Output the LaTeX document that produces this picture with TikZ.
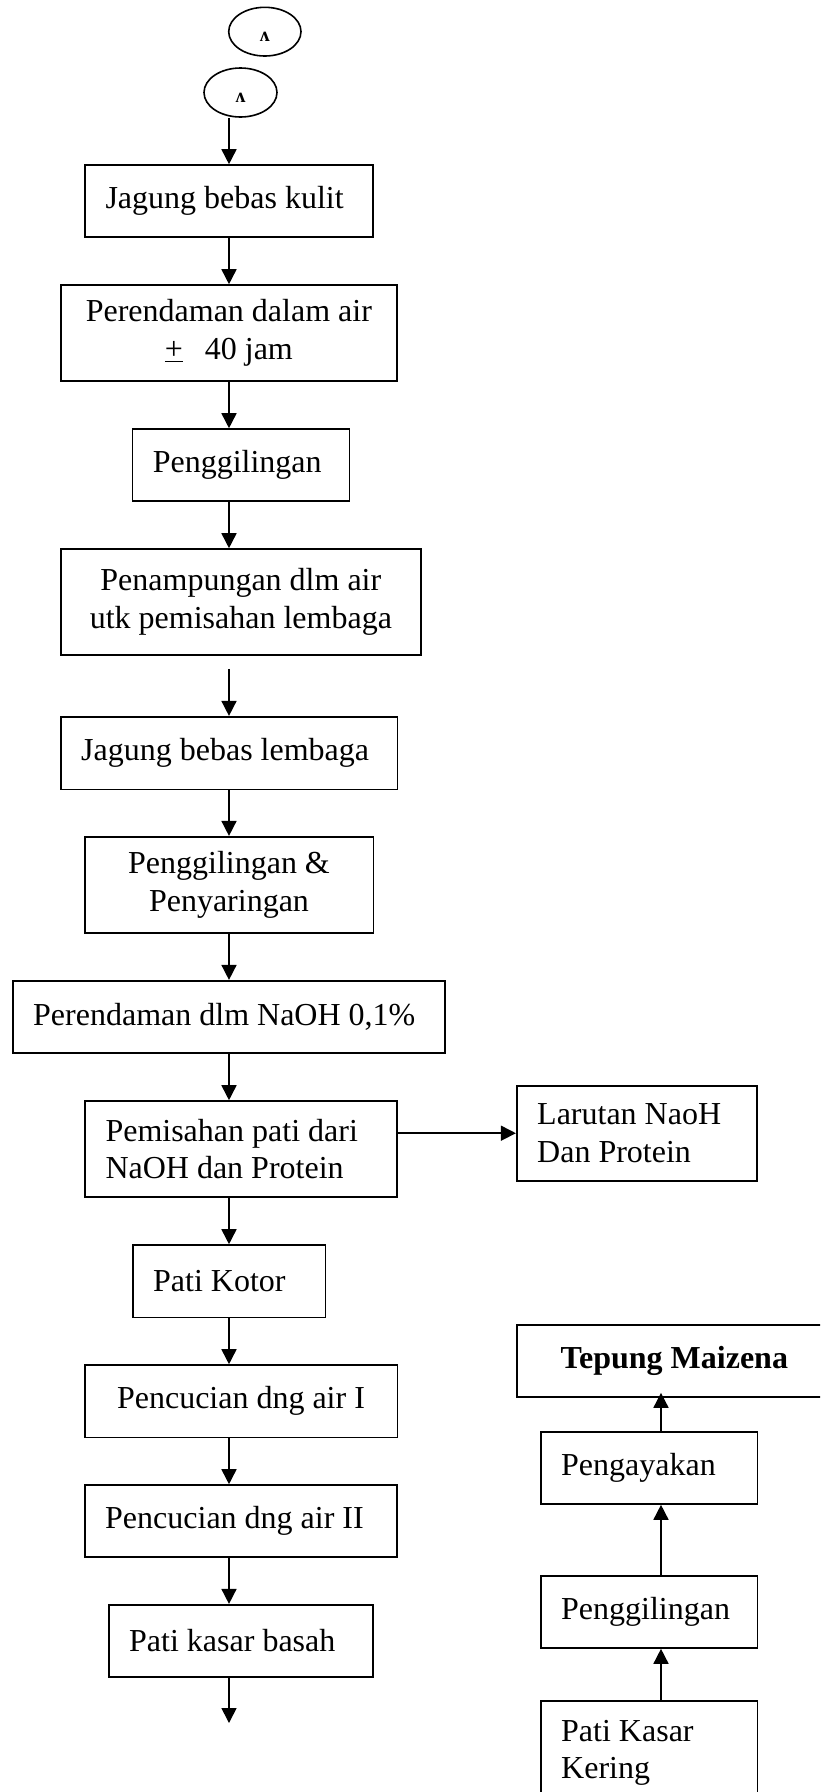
\documentclass[tikz,border=0pt]{standalone}
\usepackage{fontspec}
\setmainfont{Liberation Serif}
\usetikzlibrary{arrows.meta,shapes.geometric}
\begin{document}
\begin{tikzpicture}[x=1pt,y=-1pt,
  box/.style={draw, line width=1.6pt, inner xsep=20.5pt, inner ysep=0pt,
              font=\fontsize{32}{37.5}\selectfont, align=flush left},
  mid/.style={align=flush center},
  oval/.style={draw, ellipse, line width=1.6pt, inner sep=0pt,
               font=\bfseries\fontsize{20}{24}\selectfont},
  arr/.style={line width=1.6pt, -{Triangle[length=15pt,width=15pt]}}]

\useasboundingbox (0,0) rectangle (820,1792);
\fill[white] (0,0) rectangle (820,1792);
\clip (0,0) rectangle (820,1792);

% connectors run along these two vertical lines
\coordinate (sp)  at (229,0);
\coordinate (rsp) at (661,0);

% off-page connector symbols
\node[oval, minimum width=72.3pt, minimum height=48.7pt] (e1) at (264.85,31.65)
  {\smash{\raisebox{-9.7pt}{ʌ}}};
\node[oval, minimum width=73pt, minimum height=49pt] (e2) at (240.5,92.5)
  {\smash{\raisebox{-9.7pt}{ʌ}}};

% main processing column
\node[box, text width=246.7pt, minimum height=72pt] (k1) at (228.85,201) {Jagung bebas kulit};
\node[box, mid, text width=294.7pt, minimum height=96pt] (k2) at (228.85,333)
  {Perendaman dalam air\\\underline{+}\hspace{22pt}40 jam};
\node[box, text width=176pt, minimum height=72pt] (k3) at (240.8,465) {Penggilingan};
\node[box, mid, text width=319.3pt, minimum height=106pt] (k4) at (240.85,602)
  {Penampungan dlm air\\utk pemisahan lembaga};
\node[box, text width=295.6pt, minimum height=72.6pt] (k5) at (229,753) {Jagung bebas lembaga};
\node[box, mid, text width=247.6pt, minimum height=96pt] (k6) at (229,884.7)
  {Penggilingan \&\\Penyaringan};
\node[box, text width=391.3pt, minimum height=72pt] (k7) at (228.85,1016.7) {Perendaman dlm NaOH 0,1\%};
\node[box, text width=271pt, minimum height=96pt] (k8) at (241,1149)
  {Pemisahan pati dari\\NaOH dan Protein};
\node[box, text width=151.6pt, minimum height=72.3pt] (k9) at (229,1281.15) {Pati Kotor};
\node[box, mid, text width=271.6pt, minimum height=72.3pt] (k10) at (241,1401.15) {Pencucian dng air I};
\node[box, text width=271.3pt, minimum height=71.7pt] (k11) at (240.85,1520.85) {Pencucian dng air II};
\node[box, text width=223.3pt, minimum height=72pt] (k12) at (240.85,1640.7) {Pati kasar basah};
\coordinate (out) at (229,1723);

% side product
\node[box, text width=199pt, minimum height=95pt] (lar) at (636.7,1133.2)
  {Larutan NaoH\\Dan Protein};

% drying and finishing column
\node[box, mid, text width=274.3pt, minimum height=72pt, font=\bfseries\fontsize{32}{37.5}\selectfont]
  (tep) at (674.35,1361) {Tepung Maizena};
\node[box, text width=175.6pt, minimum height=72pt] (pay) at (649,1468) {Pengayakan};
\node[box, text width=175.6pt, minimum height=72pt] (pg2) at (649,1612) {Penggilingan};
\node[box, text width=175.6pt, minimum height=104pt] (pkk) at (649,1753) {Pati Kasar\\Kering};

% connectors
\draw[arr] (e2.south -| sp) -- (k1.north -| sp);
\foreach \a/\b in {k1/k2,k2/k3,k3/k4,k5/k6,k6/k7,k7/k8,k8/k9,k9/k10,k10/k11,k11/k12}
  \draw[arr] (\a.south -| sp) -- (\b.north -| sp);
\draw[arr, shorten <=13pt] (k4.south -| sp) -- (k5.north -| sp);
\draw[arr] (k12.south -| sp) -- (out);
\draw[arr] (k8.east |- lar.west) -- (lar.west);
\draw[arr] (pkk.north -| rsp) -- (pg2.south -| rsp);
\draw[arr] (pg2.north -| rsp) -- (pay.south -| rsp);
\draw[arr, shorten >=-5pt] (pay.north -| rsp) -- (tep.south -| rsp);
\end{tikzpicture}
\end{document}
